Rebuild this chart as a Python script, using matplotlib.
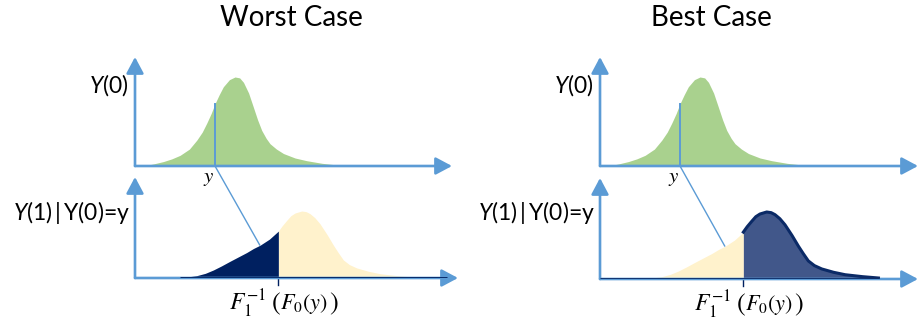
import matplotlib
matplotlib.use("Agg")
from matplotlib import pyplot as plt
from matplotlib.patches import ConnectionPatch

plt.rcParams['font.family'] = ['Lato', 'DejaVu Sans']
plt.rcParams['mathtext.fontset'] = 'custom'
plt.rcParams['mathtext.rm'] = 'Lato'
plt.rcParams['mathtext.it'] = 'Lato:italic'

# Y(0) density (x in axis units, height relative to peak)
y0_x = [0.26, 0.6, 0.89, 1.15, 1.41, 1.7, 1.93, 2.1, 2.24, 2.38, 2.5, 2.63, 2.76, 2.95,
        3.125, 3.27, 3.39, 3.55, 3.70, 3.83, 3.96, 4.1, 4.22, 4.42, 4.64, 5.0, 5.36, 5.85, 6.35]
y0_h = [0.0, 0.025, 0.05, 0.08, 0.12, 0.19, 0.29, 0.38, 0.48, 0.59, 0.70, 0.80, 0.89, 0.97,
        1.0, 0.99, 0.94, 0.82, 0.66, 0.52, 0.40, 0.31, 0.25, 0.19, 0.14, 0.09, 0.06, 0.03, 0.01]

# Y(1) | Y(0)=y density
y1_x = [1.41, 1.7, 1.93, 2.2, 2.45, 2.7, 2.97, 3.25, 3.49, 3.7, 3.91, 4.2, 4.48, 4.6, 4.74, 4.87,
        5.0, 5.21, 5.35, 5.47, 5.62, 5.78, 6.0, 6.20, 6.35, 6.51, 6.7, 6.93, 7.3, 7.66, 8.2, 8.70]
y1_h = [0.0, 0.02, 0.035, 0.07, 0.12, 0.18, 0.25, 0.32, 0.38, 0.44, 0.49, 0.58, 0.70, 0.78, 0.86, 0.93,
        0.97, 1.0, 0.99, 0.96, 0.90, 0.81, 0.65, 0.49, 0.38, 0.27, 0.20, 0.15, 0.10, 0.064, 0.035, 0.015]

y_value = 2.5        # the point y in the Y(0) panel
split_value = 4.48   # F1^-1(F0(y))
link_x, link_h = 3.9, 0.49
cases = ['Worst Case', 'Best Case']

BLUE = '#5B9BD5'
GREEN = '#A9D18E'
BEIGE = '#FFF2CC'
NAVY = '#002060'
NAVY_FILL = '#41578A'
NAVY_EDGE = '#0B2A66'

W, H = 918, 322
fig = plt.figure(figsize=(W / 100, H / 100), dpi=100)

PX = 32.0  # pixels per x unit


def panel(x0, y0, length, height, peak_px):
    # x0, y0: axis corner in pixels (from top-left); length/height: to the arrow tips
    ax = fig.add_axes([x0 / W, 1 - y0 / H, length / W, height / H])
    ax.set_xlim(0, length / PX)
    ax.set_ylim(0, height / peak_px)
    ax.axis('off')
    return ax


def arrows(ax, xcolor=BLUE):
    style = '-|>,head_length=0.45,head_width=0.24'
    ax.annotate('', xy=(1, 0), xytext=(0, 0), xycoords='axes fraction',
                arrowprops=dict(arrowstyle=style, color=xcolor, lw=1.9, mutation_scale=22,
                                shrinkA=0, shrinkB=0), annotation_clip=False)
    ax.annotate('', xy=(0, 1), xytext=(0, 0), xycoords='axes fraction',
                arrowprops=dict(arrowstyle=style, color=BLUE, lw=1.9, mutation_scale=22,
                                shrinkA=0, shrinkB=0), annotation_clip=False)


def formula(ax, x):
    # F_1^{-1}( F_0(y) ) with tall brackets, pieces placed around the split tick
    pieces = [(r'$F_1^{-1}$', -31, 17), (r'$($', -2, 19), (r'$F_0(y)$', 26, 16), (r'$)$', 55, 19)]
    for s, off, fs in pieces:
        ax.annotate(s, xy=(x, 0), xycoords='data', xytext=(off, -26),
                    textcoords='offset pixels', math_fontfamily='stix', fontsize=fs,
                    ha='center', va='center', annotation_clip=False)


for i, case in enumerate(cases):
    dx = 465 * i
    fig.text((291 + 420 * i) / W, 1 - 18 / H, case, ha='center', va='center', fontsize=20)

    # top panel: Y(0)
    top = panel(135 + dx, 166, 317 if i == 0 else 318, 109, 89)
    top.fill_between(y0_x, 0, y0_h, color=GREEN, lw=0, zorder=1)
    arrows(top)
    h_at = y0_h[y0_x.index(y_value)]
    top.plot([y_value, y_value], [0, h_at], color=BLUE, lw=1.4, zorder=3)
    top.text(y_value - 0.2, -0.14, '$y$', math_fontfamily='stix', fontsize=15,
             ha='center', va='center')
    fig.text((129 + dx) / W, 1 - 85 / H, '$Y$(0)', ha='right', va='center', fontsize=16.5)

    # bottom panel: Y(1) | Y(0)=y
    bot = panel(135 + dx, 278 + i, 323 if i == 0 else 318, 101, 67)
    k = y1_x.index(split_value)
    left_x, left_h = y1_x[:k + 1], y1_h[:k + 1]
    right_x, right_h = y1_x[k:], y1_h[k:]
    arrows(bot)
    if i == 0:
        bot.fill_between(left_x, 0, left_h, color=NAVY, lw=0, zorder=2)
        bot.fill_between(right_x, 0, right_h, color=BEIGE, lw=0, zorder=1)
        bot.plot([y1_x[0], bot.get_xlim()[1] - 0.35], [0, 0], color=NAVY, lw=2, zorder=3,
                 solid_capstyle='butt')
    else:
        bot.fill_between(left_x, 0, left_h, color=BEIGE, lw=0, zorder=1)
        bot.fill_between(right_x, 0, right_h, color=NAVY_FILL, lw=0, zorder=2)
        bot.plot(right_x, right_h, color=NAVY_EDGE, lw=2.2, zorder=3)
        bot.plot([0, y1_x[-1]], [0, 0], color=NAVY_EDGE, lw=2, zorder=3,
                 solid_capstyle='butt')
    bot.plot([split_value, split_value], [0, -0.1], color=NAVY, lw=1, clip_on=False)
    formula(bot, split_value)
    fig.text((130 + dx) / W, 1 - 212 / H, '$Y$(1)$\\,|\\,$Y(0)=y', ha='right', va='center',
             fontsize=16.5)

    link = ConnectionPatch(xyA=(y_value, 0), coordsA=top.transData,
                           xyB=(link_x, link_h), coordsB=bot.transData,
                           color=BLUE, lw=1.0, zorder=4)
    fig.add_artist(link)

fig.savefig('out.png', dpi=100)
